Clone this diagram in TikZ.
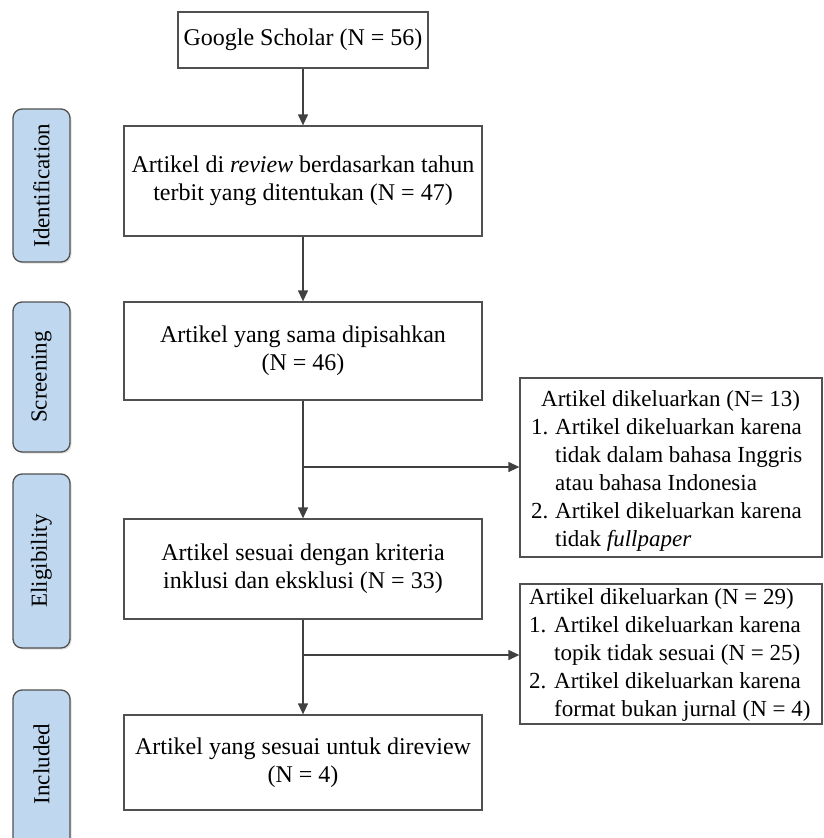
\documentclass[tikz,border=0pt]{standalone}
\usepackage{fontspec}
\setmainfont{Liberation Serif}
\usetikzlibrary{arrows.meta,shadows}
\definecolor{bordergray}{HTML}{505050}
\definecolor{labelblue}{HTML}{C0D8EF}
\tikzset{
  mainbox/.style={draw=bordergray, line width=1.3pt, fill=white, align=center,
    font=\fontsize{24}{28}\selectfont, inner sep=0pt},
  sidebox/.style={draw=bordergray, line width=1.3pt, fill=white, inner sep=0pt},
  sidetext/.style={align=left, anchor=north west, inner sep=0pt,
    font=\fontsize{23}{28}\selectfont},
  phase/.style={draw=bordergray, line width=1.3pt, fill=labelblue, rounded corners=9pt,
    minimum width=57pt, inner sep=0pt,
    drop shadow={shadow xshift=1.5pt, shadow yshift=-1.5pt, opacity=0.25}},
  phasetext/.style={rotate=90, font=\fontsize{23}{26}\selectfont, inner sep=0pt},
  flow/.style={draw=bordergray!80!black, line width=1.3pt, -{Triangle[length=11pt,width=10pt]}}
}
\begin{document}
\begin{tikzpicture}[x=1pt,y=-1pt]
\useasboundingbox (0,0) rectangle (823,838);
\clip (0,0) rectangle (823,838);

% phase labels
\node[phase, minimum height=153pt] (pid) at (41.5,185.5) {};
\node[phasetext] (tid) at (pid.center) {Identification};
\node[phase, minimum height=150pt] (psc) at (41.5,377) {};
\node[phasetext] (tsc) at (psc.center) {Screening};
\node[phase, minimum height=174pt] (pel) at (41.5,561) {};
\node[phasetext] (tel) at (pel.center) {Eligibility};
\node[phase, minimum height=160pt] (pin) at (41.5,770) {};
\node[phasetext] (tin) at (41.5,764) {Included};

% main boxes
\node[mainbox, minimum width=250pt, minimum height=56pt] (gs) at (303,40) {Google Scholar (N = 56)};
\node[mainbox, minimum width=358pt, minimum height=110pt] (b2) at (303,181)
  {Artikel di \textit{review} berdasarkan tahun\\terbit yang ditentukan (N = 47)};
\node[mainbox, minimum width=358pt, minimum height=98pt] (b3) at (303,351)
  {Artikel yang sama dipisahkan\\(N = 46)};
\node[mainbox, minimum width=358pt, minimum height=100pt] (b4) at (303,569)
  {Artikel sesuai dengan kriteria\\inklusi dan eksklusi (N = 33)};
\node[mainbox, minimum width=358pt, minimum height=95pt] (b5) at (303,762.5)
  {Artikel yang sesuai untuk direview\\(N = 4)};

% side boxes
\node[sidebox, minimum width=302pt, minimum height=179pt] (s1) at (671,467.5) {};
\node[sidetext] (s1t) at (531,390)
  {\hspace*{10pt}Artikel dikeluarkan (N= 13)\\
   \makebox[24pt][l]{1.}Artikel dikeluarkan karena\\
   \hspace*{24pt}tidak dalam bahasa Inggris\\
   \hspace*{24pt}atau bahasa Indonesia\\
   \makebox[24pt][l]{2.}Artikel dikeluarkan karena\\
   \hspace*{24pt}tidak \textit{fullpaper}};
\node[sidebox, minimum width=302pt, minimum height=140pt] (s2) at (671,654) {};
\node[sidetext] (s2t) at (529,588)
  {Artikel dikeluarkan (N = 29)\\
   \makebox[25pt][l]{1.}Artikel dikeluarkan karena\\
   \hspace*{25pt}topik tidak sesuai (N = 25)\\
   \makebox[25pt][l]{2.}Artikel dikeluarkan karena\\
   \hspace*{25pt}format bukan jurnal (N = 4)};

% connectors
\coordinate (j1) at (303,467);
\coordinate (j2) at (303,655);
\draw[flow] (gs) -- (b2);
\draw[flow] (b2) -- (b3);
\draw[flow] (b3) -- (b4);
\draw[flow] (b4) -- (b5);
\draw[flow] (j1) -- (j1 -| s1.west);
\draw[flow] (j2) -- (j2 -| s2.west);
\end{tikzpicture}
\end{document}
